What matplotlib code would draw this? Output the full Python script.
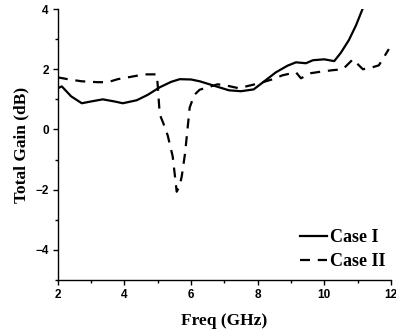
import matplotlib
matplotlib.use("Agg")
import matplotlib.pyplot as plt
from matplotlib.ticker import MultipleLocator

# Case I (solid)
freq1 = [2.0, 2.12, 2.4, 2.72, 3.0, 3.35, 3.7, 3.95, 4.37, 4.7, 5.06, 5.4, 5.66, 6.0, 6.26,
         6.7, 7.14, 7.5, 7.88, 8.2, 8.55, 8.9, 9.15, 9.45, 9.66, 10.0, 10.3, 10.5, 10.74, 10.95, 11.16]
gain1 = [1.37, 1.43, 1.1, 0.87, 0.93, 1.0, 0.93, 0.87, 0.97, 1.15, 1.4, 1.58, 1.67, 1.66, 1.6,
         1.45, 1.3, 1.27, 1.33, 1.6, 1.9, 2.12, 2.23, 2.2, 2.3, 2.33, 2.27, 2.55, 2.97, 3.45, 4.03]

# Case II (dashed)
freq2 = [2.0, 2.4, 2.72, 3.2, 3.5, 3.8, 4.2, 4.6, 4.97, 5.0, 5.06, 5.17, 5.3, 5.45, 5.57,
         5.65, 5.72, 5.82, 5.96, 6.1, 6.26, 6.5, 6.8, 7.1, 7.43, 8.03, 8.4, 8.75, 9.15, 9.3,
         9.6, 9.9, 10.26, 10.56, 10.86, 11.16, 11.4, 11.64, 11.94]
gain2 = [1.73, 1.65, 1.6, 1.57, 1.57, 1.67, 1.75, 1.83, 1.83, 1.47, 0.5, 0.2, -0.2, -0.9, -2.07,
         -1.9, -1.57, -0.8, 0.73, 1.15, 1.32, 1.4, 1.5, 1.45, 1.37, 1.53, 1.65, 1.8, 1.9, 1.7,
         1.87, 1.92, 1.97, 2.0, 2.33, 2.0, 2.05, 2.13, 2.67]

tick_font = {"family": "Liberation Sans", "weight": "bold", "size": 8.5}
label_font = {"family": "Liberation Serif", "weight": "bold", "size": 12.5}

fig = plt.figure(figsize=(3.96, 3.36), dpi=100)
ax = fig.add_axes([0.146, 0.167, 0.841, 0.806])

ax.plot(freq1, gain1, color="black", lw=1.6, label="Case I")
ax.plot(freq2, gain2, color="black", lw=1.6, ls=(0, (4.5, 3.5)), label="Case II")

ax.set_xlim(2, 12)
ax.set_ylim(-5, 4)
ax.xaxis.set_major_locator(MultipleLocator(2))
ax.xaxis.set_minor_locator(MultipleLocator(1))
ax.yaxis.set_major_locator(MultipleLocator(2))
ax.yaxis.set_minor_locator(MultipleLocator(1))
ax.spines["top"].set_visible(False)
ax.spines["right"].set_visible(False)
ax.spines["left"].set_linewidth(1.0)
ax.spines["bottom"].set_linewidth(1.0)
ax.tick_params(which="major", direction="out", length=3.5, width=1.0, pad=3)
ax.tick_params(which="minor", direction="out", length=2, width=1.0)

for lab in ax.get_xticklabels() + ax.get_yticklabels():
    lab.set_fontfamily(tick_font["family"])
    lab.set_fontweight(tick_font["weight"])
    lab.set_fontsize(tick_font["size"])

ax.set_xlabel("Freq (GHz)", fontdict=label_font, labelpad=9)
ax.set_ylabel("Total Gain (dB)", fontdict=label_font, labelpad=4)

leg = ax.legend(loc="lower right", bbox_to_anchor=(0.985, 0.035), frameon=False,
                handlelength=1.5, handletextpad=0.2, labelspacing=0.4,
                borderaxespad=0.0, borderpad=0.0,
                prop={"family": "Liberation Serif", "weight": "bold", "size": 13})

fig.savefig("out.png", dpi=100)
